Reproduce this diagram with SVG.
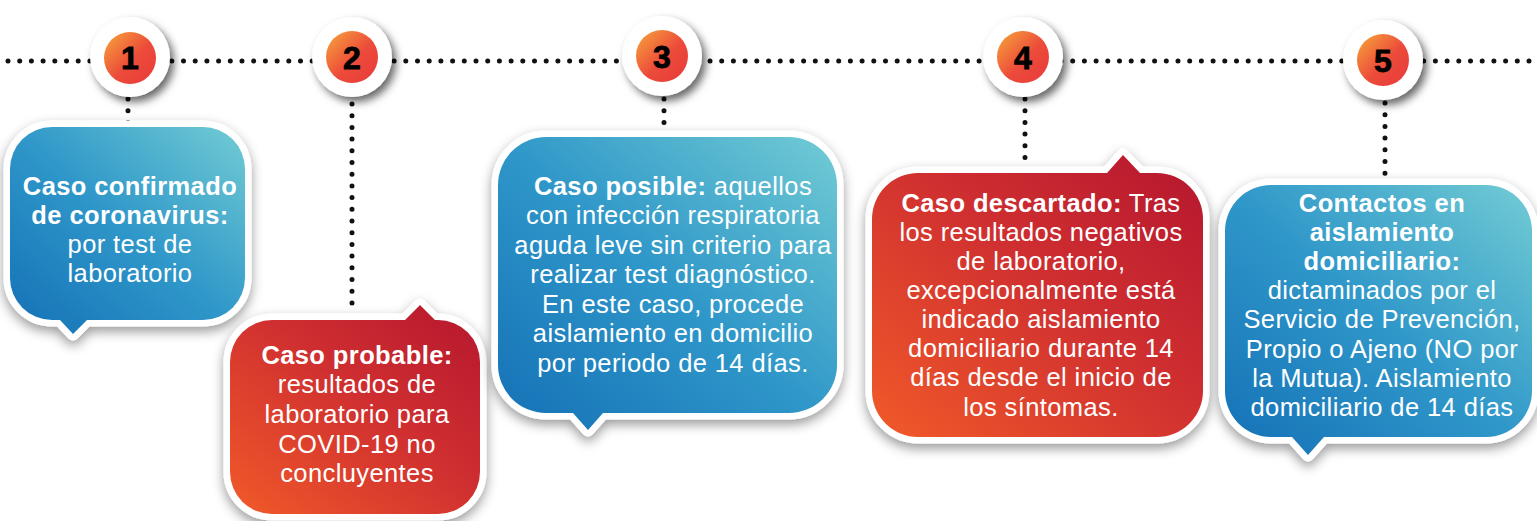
<svg xmlns="http://www.w3.org/2000/svg" width="1537" height="521" viewBox="0 0 1537 521">
<defs>
<linearGradient id="gBlue" x1="0" y1="1" x2="1" y2="0">
<stop offset="0" stop-color="#1470b6"/>
<stop offset="0.5" stop-color="#2f97c9"/>
<stop offset="1" stop-color="#72ccd4"/>
</linearGradient>
<linearGradient id="gRed" x1="0" y1="1" x2="1" y2="0">
<stop offset="0" stop-color="#f15a29"/>
<stop offset="0.55" stop-color="#cf2f30"/>
<stop offset="1" stop-color="#b5162e"/>
</linearGradient>
<linearGradient id="gBall" x1="0" y1="0" x2="1" y2="1">
<stop offset="0" stop-color="#f7a83b"/>
<stop offset="0.55" stop-color="#ec4b3a"/>
<stop offset="1" stop-color="#e83a3a"/>
</linearGradient>
<filter id="shB" x="-20%" y="-20%" width="140%" height="140%">
<feDropShadow dx="0" dy="5" stdDeviation="6" flood-color="#000" flood-opacity="0.4"/>
</filter>
<filter id="shC" x="-40%" y="-40%" width="180%" height="180%">
<feDropShadow dx="4" dy="5" stdDeviation="4" flood-color="#000" flood-opacity="0.6"/>
</filter>
</defs>
<style>
.dots{fill:none;stroke:#111;stroke-width:5;stroke-linecap:round;stroke-dasharray:0 11.7}
.frame{fill:#fff;stroke:#fff;stroke-width:13;stroke-linejoin:round;filter:url(#shB)}
.blue{fill:url(#gBlue)}
.red{fill:url(#gRed)}
.ring{fill:#fff;filter:url(#shC)}
.ball{fill:url(#gBall)}
.num{font-family:"Liberation Sans",Arial,sans-serif;font-weight:bold;font-size:32px;fill:#000;text-anchor:middle;stroke:#000;stroke-width:0.8}
.t{font-family:"Liberation Sans",Arial,sans-serif;font-size:25.5px;fill:#fff;text-anchor:middle;letter-spacing:0.4px}
.b{font-weight:bold}
</style>

<g id="connectors">
<path class="dots" d="M8,61 H1537"/>
<path class="dots" d="M128,99 V125"/>
<path class="dots" d="M352,104 V312"/>
<path class="dots" d="M664,99 V130"/>
<path class="dots" d="M1025,99 V160"/>
<path class="dots" d="M1385,103 V176"/>
</g>

<g id="marker1"><circle class="ring" cx="130" cy="57" r="40"/><circle class="ball" cx="130" cy="58" r="26"/><text class="num" x="130" y="69">1</text></g>
<g id="marker2"><circle class="ring" cx="352" cy="57" r="40"/><circle class="ball" cx="352" cy="57" r="26"/><text class="num" x="352" y="69">2</text></g>
<g id="marker3"><circle class="ring" cx="662" cy="56" r="40"/><circle class="ball" cx="662" cy="56" r="26"/><text class="num" x="662" y="68">3</text></g>
<g id="marker4"><circle class="ring" cx="1023" cy="57" r="40"/><circle class="ball" cx="1023" cy="57" r="26"/><text class="num" x="1023" y="69">4</text></g>
<g id="marker5"><circle class="ring" cx="1383" cy="60" r="40"/><circle class="ball" cx="1383" cy="60" r="26"/><text class="num" x="1383" y="72">5</text></g>

<g id="bubble1">
<path class="frame" d="M52,127 H203 A42,42 0 0 1 245,169 V278 A42,42 0 0 1 203,320 H87 L73,334 L60,320 H52 A42,42 0 0 1 10,278 V169 A42,42 0 0 1 52,127 Z"/>
<path class="blue" d="M52,127 H203 A42,42 0 0 1 245,169 V278 A42,42 0 0 1 203,320 H87 L73,334 L60,320 H52 A42,42 0 0 1 10,278 V169 A42,42 0 0 1 52,127 Z"/>
<text class="t" x="130" y="195"><tspan class="b">Caso confirmado</tspan></text>
<text class="t" x="130" y="224"><tspan class="b">de coronavirus:</tspan></text>
<text class="t" x="130" y="253">por test de</text>
<text class="t" x="130" y="282">laboratorio</text>
</g>

<g id="bubble2">
<path class="frame" d="M272,320 H405 L420,305 L435,320 H438 A42,42 0 0 1 480,362 V472 A42,42 0 0 1 438,514 H272 A42,42 0 0 1 230,472 V362 A42,42 0 0 1 272,320 Z"/>
<path class="red" d="M272,320 H405 L420,305 L435,320 H438 A42,42 0 0 1 480,362 V472 A42,42 0 0 1 438,514 H272 A42,42 0 0 1 230,472 V362 A42,42 0 0 1 272,320 Z"/>
<text class="t" x="357" y="364"><tspan class="b">Caso probable:</tspan></text>
<text class="t" x="357" y="393">resultados de</text>
<text class="t" x="357" y="423">laboratorio para</text>
<text class="t" x="357" y="453">COVID-19 no</text>
<text class="t" x="357" y="482">concluyentes</text>
</g>

<g id="bubble3">
<path class="frame" d="M546,137 H789 A48,48 0 0 1 837,185 V365 A48,48 0 0 1 789,413 H603 L588,430 L573,413 H546 A48,48 0 0 1 498,365 V185 A48,48 0 0 1 546,137 Z"/>
<path class="blue" d="M546,137 H789 A48,48 0 0 1 837,185 V365 A48,48 0 0 1 789,413 H603 L588,430 L573,413 H546 A48,48 0 0 1 498,365 V185 A48,48 0 0 1 546,137 Z"/>
<text class="t" x="673" y="195"><tspan class="b">Caso posible:</tspan> aquellos</text>
<text class="t" x="673" y="224">con infección respiratoria</text>
<text class="t" x="673" y="254">aguda leve sin criterio para</text>
<text class="t" x="673" y="283">realizar test diagnóstico.</text>
<text class="t" x="673" y="313">En este caso, procede</text>
<text class="t" x="673" y="342">aislamiento en domicilio</text>
<text class="t" x="673" y="372">por periodo de 14 días.</text>
</g>

<g id="bubble4">
<path class="frame" d="M918,173 H1107 L1123,155 L1140,173 H1157 A46,46 0 0 1 1203,219 V391 A46,46 0 0 1 1157,437 H918 A46,46 0 0 1 872,391 V219 A46,46 0 0 1 918,173 Z"/>
<path class="red" d="M918,173 H1107 L1123,155 L1140,173 H1157 A46,46 0 0 1 1203,219 V391 A46,46 0 0 1 1157,437 H918 A46,46 0 0 1 872,391 V219 A46,46 0 0 1 918,173 Z"/>
<text class="t" x="1041" y="212"><tspan class="b">Caso descartado:</tspan> Tras</text>
<text class="t" x="1041" y="241">los resultados negativos</text>
<text class="t" x="1041" y="270">de laboratorio,</text>
<text class="t" x="1041" y="299">excepcionalmente está</text>
<text class="t" x="1041" y="328">indicado aislamiento</text>
<text class="t" x="1041" y="357">domiciliario durante 14</text>
<text class="t" x="1041" y="386">días desde el inicio de</text>
<text class="t" x="1041" y="416">los síntomas.</text>
</g>

<g id="bubble5">
<path class="frame" d="M1271,185 H1486 A46,46 0 0 1 1532,231 V391 A46,46 0 0 1 1486,437 H1324 L1308,455 L1292,437 H1271 A46,46 0 0 1 1225,391 V231 A46,46 0 0 1 1271,185 Z"/>
<path class="blue" d="M1271,185 H1486 A46,46 0 0 1 1532,231 V391 A46,46 0 0 1 1486,437 H1324 L1308,455 L1292,437 H1271 A46,46 0 0 1 1225,391 V231 A46,46 0 0 1 1271,185 Z"/>
<text class="t" x="1382" y="212"><tspan class="b">Contactos en</tspan></text>
<text class="t" x="1382" y="241"><tspan class="b">aislamiento</tspan></text>
<text class="t" x="1382" y="270"><tspan class="b">domiciliario:</tspan></text>
<text class="t" x="1382" y="299">dictaminados por el</text>
<text class="t" x="1382" y="328">Servicio de Prevención,</text>
<text class="t" x="1382" y="358">Propio o Ajeno (NO por</text>
<text class="t" x="1382" y="387">la Mutua). Aislamiento</text>
<text class="t" x="1382" y="416">domiciliario de 14 días</text>
</g>
</svg>
